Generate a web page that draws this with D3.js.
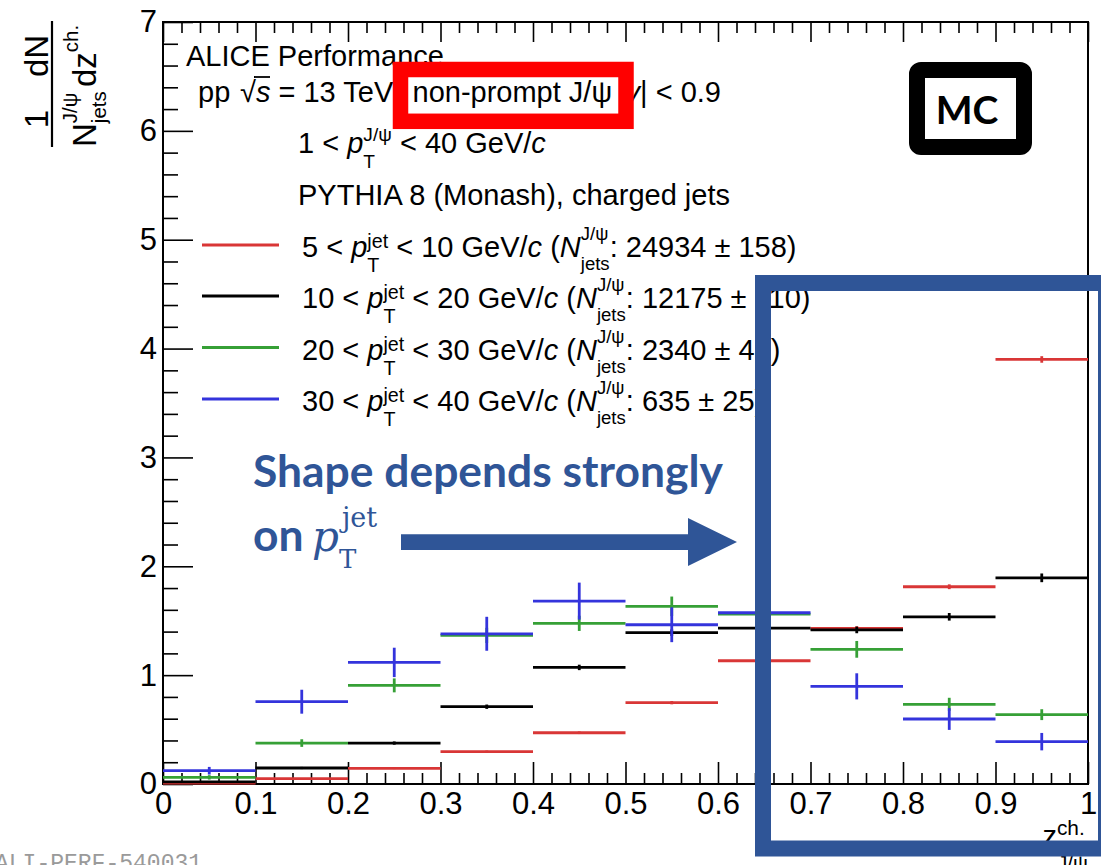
<!DOCTYPE html>
<html>
<head>
<meta charset="utf-8">
<script src="https://cdn.jsdelivr.net/npm/d3@7"></script>
<style>
  html, body { margin: 0; padding: 0; background: #fff; }
  svg { display: block; }
  text { white-space: pre; }
</style>
</head>
<body>
<script>
// z(ch.) bins of the J/psi-in-jet fragmentation distribution
const binLow = [0.0, 0.1, 0.2, 0.3, 0.4, 0.5, 0.6, 0.7, 0.8, 0.9];
const binWidth = 0.1;

// 1/N dN/dz per jet pT interval, with statistical uncertainties
const val5to10  = [0.008, 0.049, 0.144, 0.297, 0.471, 0.747, 1.132, 1.430, 1.812, 3.900];
const err5to10  = [0.003, 0.005, 0.007, 0.010, 0.012, 0.015, 0.018, 0.020, 0.022, 0.030];
const val10to20 = [0.020, 0.147, 0.376, 0.710, 1.071, 1.390, 1.432, 1.415, 1.536, 1.894];
const err10to20 = [0.005, 0.010, 0.015, 0.020, 0.025, 0.030, 0.030, 0.030, 0.035, 0.040];
const val20to30 = [0.061, 0.376, 0.906, 1.365, 1.476, 1.632, 1.560, 1.237, 0.732, 0.637];
const err20to30 = [0.020, 0.035, 0.064, 0.070, 0.070, 0.090, 0.080, 0.077, 0.060, 0.050];
const val30to40 = [0.122, 0.756, 1.117, 1.380, 1.680, 1.463, 1.573, 0.897, 0.597, 0.389];
const err30to40 = [0.035, 0.110, 0.135, 0.156, 0.170, 0.160, 0.160, 0.120, 0.100, 0.080];

// legend content
const ptLow  = ["5", "10", "20", "30"];
const ptHigh = ["10", "20", "30", "40"];
const nJets  = ["24934 ± 158", "12175 ± 110", "2340 ± 48", "635 ± 25"];
const colors = ["#d93636", "#000000", "#36a036", "#3434dc"];

// axis ticks
const xTicks = [0, 0.1, 0.2, 0.3, 0.4, 0.5, 0.6, 0.7, 0.8, 0.9, 1];
const xTickLabels = ["0", "0.1", "0.2", "0.3", "0.4", "0.5", "0.6", "0.7", "0.8", "0.9", "1"];
const yTicks = [0, 1, 2, 3, 4, 5, 6, 7];
const yTickLabels = ["0", "1", "2", "3", "4", "5", "6", "7"];

const series = [
  { v: val5to10,  e: err5to10  },
  { v: val10to20, e: err10to20 },
  { v: val20to30, e: err20to30 },
  { v: val30to40, e: err30to40 }
];

const W = 1101, H = 865;
const FONT = "'Liberation Sans', Arial, Helvetica, sans-serif";
const OVER = "#2f5597";

const svg = d3.select("body").append("svg")
  .attr("width", W).attr("height", H)
  .attr("font-family", FONT);

const x = d3.scaleLinear().domain([0, 1]).range([163, 1088]);
const y = d3.scaleLinear().domain([0, 7]).range([784, 22]);

// ---------- rich text helper (italics, stacked super/subscripts) ----------
function rich(parent, px, py, parts, opt) {
  const size = opt.size, anchor = opt.anchor || "start";
  const g = parent.append("g");
  let cx = 0;
  const add = (str, xx, yy, fs, it) => {
    const t = g.append("text")
      .attr("x", xx).attr("y", yy)
      .attr("font-size", fs)
      .attr("fill", opt.fill || "#000")
      .attr("font-family", opt.family || FONT)
      .attr("xml:space", "preserve")
      .style("font-style", it ? "italic" : "normal")
      .text(str);
    return t.node().getComputedTextLength();
  };
  parts.forEach(p => {
    if (typeof p === "string") p = { t: p };
    if (p.sup !== undefined || p.sub !== undefined) {
      const fs = size * (p.scale || 0.72);
      let w = 0;
      if (p.sup) w = Math.max(w, add(p.sup, cx, p.supDy, fs, false));
      if (p.sub) w = Math.max(w, add(p.sub, cx, p.subDy, fs, false));
      cx += w;
    } else {
      cx += add(p.t, cx, 0, size, p.it);
    }
  });
  const off = anchor === "end" ? -cx : anchor === "middle" ? -cx / 2 : 0;
  g.attr("transform", `translate(${px + off},${py})`);
  return { g, width: cx };
}

// ---------- axes ----------
const minorX = d3.range(0, 50).map(i => i * 0.02).filter(v => Math.round(v * 50) % 5 !== 0);
const minorY = d3.range(0, 35).map(i => i * 0.2).filter(v => Math.round(v * 5) % 5 !== 0);

function styleAxis(sel) {
  sel.select(".domain").remove();
  sel.selectAll(".tick line").attr("stroke", "#000").attr("stroke-width", 1.6);
}

// bottom
svg.append("g").attr("transform", "translate(0,784)")
  .call(d3.axisBottom(x).tickValues(xTicks).tickFormat((d, i) => xTickLabels[i])
    .tickSizeInner(-22).tickSizeOuter(0).tickPadding(8))
  .call(styleAxis)
  .call(s => s.selectAll(".tick text").attr("font-size", 31).attr("font-family", FONT).attr("fill", "#000"));
svg.append("g").attr("transform", "translate(0,784)")
  .call(d3.axisBottom(x).tickValues(minorX).tickFormat("").tickSizeInner(-11).tickSizeOuter(0))
  .call(styleAxis);
// top
svg.append("g").attr("transform", "translate(0,22)")
  .call(d3.axisTop(x).tickValues(xTicks).tickFormat("").tickSizeInner(-20).tickSizeOuter(0))
  .call(styleAxis);
svg.append("g").attr("transform", "translate(0,22)")
  .call(d3.axisTop(x).tickValues(minorX).tickFormat("").tickSizeInner(-11).tickSizeOuter(0))
  .call(styleAxis);
// left
svg.append("g").attr("transform", "translate(163,0)")
  .call(d3.axisLeft(y).tickValues(yTicks).tickFormat((d, i) => yTickLabels[i])
    .tickSizeInner(-30).tickSizeOuter(0).tickPadding(6))
  .call(styleAxis)
  .call(s => s.selectAll(".tick text").attr("font-size", 31).attr("font-family", FONT).attr("fill", "#000"));
svg.append("g").attr("transform", "translate(163,0)")
  .call(d3.axisLeft(y).tickValues(minorY).tickFormat("").tickSizeInner(-15).tickSizeOuter(0))
  .call(styleAxis);

// frame
svg.append("rect")
  .attr("x", x(0)).attr("y", y(7))
  .attr("width", x(1) - x(0)).attr("height", y(0) - y(7))
  .attr("fill", "none").attr("stroke", "#000").attr("stroke-width", 2);

// ---------- data: horizontal bin line + vertical error bar ----------
const dataG = svg.append("g");
series.forEach((s, k) => {
  const g = dataG.append("g").attr("stroke", colors[k]).attr("stroke-width", 2.8);
  binLow.forEach((lo, i) => {
    const v = s.v[i], e = s.e[i];
    g.append("line")
      .attr("x1", x(lo)).attr("x2", x(lo + binWidth))
      .attr("y1", y(v)).attr("y2", y(v));
    g.append("line")
      .attr("x1", x(lo + binWidth / 2)).attr("x2", x(lo + binWidth / 2))
      .attr("y1", y(Math.max(0, v - e))).attr("y2", y(v + e));
  });
});

// ---------- axis titles ----------
// x title: z^{ch.}_{J/psi}
const xt = svg.append("g");
rich(xt, 1088, 846, [
  { t: "z" },
  { sup: "ch.", sub: "J/ψ", supDy: -11, subDy: 24, scale: 0.72 }
], { size: 29, anchor: "end" });

// y title: 1/N^{J/psi}_{jets} dN/dz^{ch.} (rotated)
const yt = svg.append("g").attr("transform", "translate(52,147) rotate(-90)");
yt.append("line").attr("x1", 0).attr("x2", 126).attr("y1", 0).attr("y2", 0)
  .attr("stroke", "#000").attr("stroke-width", 2.2);
const den1 = rich(yt, 0, 44, [
  { t: "N" },
  { sup: "J/ψ", sub: "jets", supDy: -19, subDy: 10, scale: 0.62 }
], { size: 33 });
rich(yt, den1.width / 2, -4, ["1"], { size: 33, anchor: "middle" });
const den2 = rich(yt, 60, 44, [
  { t: "dz" },
  { sup: "ch.", supDy: -18, scale: 0.62 }
], { size: 33 });
rich(yt, 60 + den2.width / 2, -4, ["dN"], { size: 33, anchor: "middle" });

// ---------- legend / labels block ----------
const lg = svg.append("g");
const LS = 29;
rich(lg, 186, 66, ["ALICE Performance"], { size: LS });

// pp sqrt(s) line
rich(lg, 198, 102, ["pp"], { size: LS });
rich(lg, 240, 102, ["√", { t: "s", it: true }, " = 13 TeV"], { size: LS });
lg.append("line").attr("x1", 254).attr("x2", 270).attr("y1", 77).attr("y2", 77)
  .attr("stroke", "#000").attr("stroke-width", 1.8);
rich(lg, 721, 102, ["|", { t: "y", it: true }, "| < 0.9"], { size: LS, anchor: "end" });

rich(lg, 298, 153, [
  "1 < ", { t: "p", it: true },
  { sup: "J/ψ", sub: "T", supDy: -12, subDy: 15, scale: 0.66 },
  " < 40 GeV/", { t: "c", it: true }
], { size: LS });

rich(lg, 298, 205, ["PYTHIA 8 (Monash), charged jets"], { size: LS });

const legBase = [257, 308, 359.5, 411];
ptLow.forEach((lo, k) => {
  const by = legBase[k];
  lg.append("line").attr("x1", 202).attr("x2", 279)
    .attr("y1", by - 12).attr("y2", by - 12)
    .attr("stroke", colors[k]).attr("stroke-width", 3);
  rich(lg, 302, by, [
    lo + " < ", { t: "p", it: true },
    { sup: "jet", sub: "T", supDy: -9, subDy: 15, scale: 0.68 },
    " < " + ptHigh[k] + " GeV/", { t: "c", it: true }, " (",
    { t: "N", it: true },
    { sup: "J/ψ", sub: "jets", supDy: -17, subDy: 13, scale: 0.64 },
    ": " + nJets[k] + ")"
  ], { size: LS });
});

// ---------- figure id ----------
svg.append("text").attr("x", -5).attr("y", 870)
  .attr("font-family", "'Liberation Mono', 'DejaVu Sans Mono', monospace")
  .attr("font-size", 23).attr("fill", "#9a9a9a")
  .text("ALI-PERF-540031");

// ---------- annotations ----------
// red highlight box
svg.append("rect").attr("x", 400.5).attr("y", 69.5).attr("width", 225.5).attr("height", 51.8)
  .attr("fill", "#fff").attr("stroke", "#ff0000").attr("stroke-width", 15.5);
rich(svg, 412.5, 102, ["non-prompt J/ψ"], { size: LS });

// MC badge
svg.append("rect").attr("x", 917).attr("y", 70).attr("width", 107).attr("height", 77)
  .attr("rx", 4).attr("ry", 4)
  .attr("fill", "#fff").attr("stroke", "#000").attr("stroke-width", 16);
svg.append("text").attr("x", 967).attr("y", 123.5).attr("text-anchor", "middle")
  .attr("font-family", "Lato, 'Open Sans', sans-serif").attr("font-weight", 700)
  .attr("font-size", 39).attr("fill", "#000").text("MC");

// blue frame around the high-z region
svg.append("rect").attr("x", 763).attr("y", 283).attr("width", 343).attr("height", 565.5)
  .attr("fill", "none").attr("stroke", OVER).attr("stroke-width", 16);

// statement text
const st = svg.append("text").attr("x", 253).attr("y", 487)
  .attr("font-family", "Lato, 'Open Sans', sans-serif").attr("font-weight", 700)
  .attr("font-size", 44).attr("fill", OVER).text("Shape depends strongly");
const stW = st.node().getComputedTextLength();
const fitSize = 44 * 470 / stW;
st.attr("font-size", fitSize);
svg.append("text").attr("x", 253).attr("y", 551)
  .attr("font-family", "Lato, 'Open Sans', sans-serif").attr("font-weight", 700)
  .attr("font-size", fitSize).attr("fill", OVER).text("on");
svg.append("text").attr("x", 312).attr("y", 551)
  .attr("font-family", "'DejaVu Serif', serif").style("font-style", "italic")
  .attr("font-size", 42).attr("fill", OVER).text("p");
svg.append("text").attr("x", 342).attr("y", 527)
  .attr("font-family", "'DejaVu Serif', serif")
  .attr("font-size", 27).attr("fill", OVER).text("jet");
svg.append("text").attr("x", 339).attr("y", 568)
  .attr("font-family", "'DejaVu Serif', serif")
  .attr("font-size", 26).attr("fill", OVER).text("T");

// arrow
svg.append("path")
  .attr("d", "M401,534.3 L688,534.3 L688,518 L737,542 L688,566 L688,550 L401,550 Z")
  .attr("fill", OVER);
</script>
</body>
</html>
